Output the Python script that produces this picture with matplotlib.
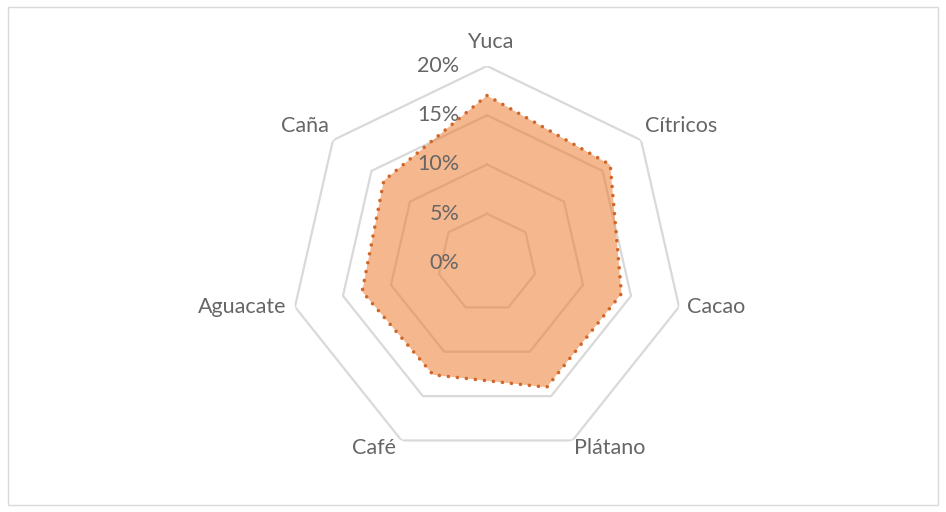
import numpy as np
import matplotlib
matplotlib.use("Agg")
import matplotlib.pyplot as plt
from matplotlib.patches import Rectangle

plt.rcParams['font.family'] = ['Lato', 'DejaVu Sans']

# Share of each crop (%)
categories = ["Yuca", "Cítricos", "Cacao", "Plátano", "Café", "Aguacate", "Caña"]
values = [17.0, 16.0, 14.0, 14.0, 12.6, 13.0, 13.4]
grid_levels = [5, 10, 15, 20]
tick_labels = ["0%", "5%", "10%", "15%", "20%"]
r_max = 20

text_color = "#666666"
grid_color = "#D9D9D9"
fill_color = "#ED7D31"
line_color = "#D2672A"
font_size = 15.5

W, H, DPI = 946, 512, 100
fig = plt.figure(figsize=(W / DPI, H / DPI), dpi=DPI)

# chart area border
fig.patches.append(Rectangle((8 / W, 7 / H), (W - 16) / W, (H - 14) / H,
                             transform=fig.transFigure, fill=False,
                             edgecolor="#D9D9D9", linewidth=1.0))

cx, cy, R = 487, 263, 197
ax = fig.add_axes([(cx - R) / W, (H - cy - R) / H, 2 * R / W, 2 * R / H],
                  projection="polar")
ax.set_theta_zero_location("N")
ax.set_theta_direction(-1)
ax.set_ylim(0, r_max)
ax.axis("off")

n = len(categories)
angles = np.linspace(0, 2 * np.pi, n, endpoint=False)
closed = np.append(angles, angles[0])

# heptagonal gridlines
for lvl in grid_levels:
    ax.plot(closed, [lvl] * (n + 1), color=grid_color, lw=1.6, zorder=1)

# data series
vals = np.append(values, values[0])
ax.fill(closed, vals, color=fill_color, alpha=0.55, lw=0, zorder=2)
ax.plot(closed, vals, color=line_color, lw=2.6,
        linestyle=(0, (0.01, 2.5)), dash_capstyle="round", zorder=3)

# radial tick labels along the vertical axis
for i, lab in enumerate(tick_labels):
    r = i * 5
    ax.annotate(lab, xy=(0, r), xytext=(-20, 0), textcoords="offset points",
                ha="right", va="center", fontsize=font_size, color=text_color,
                zorder=4)

# category labels
label_offsets = {
    "Yuca": (2, 10, "center", "bottom"),
    "Cítricos": (3, 3, "left", "bottom"),
    "Cacao": (6, 0, "left", "center"),
    "Plátano": (1, 2, "left", "top"),
    "Café": (-4, 2, "right", "top"),
    "Aguacate": (-6, 0, "right", "center"),
    "Caña": (-3, 3, "right", "bottom"),
}
for ang, cat in zip(angles, categories):
    dx, dy, ha, va = label_offsets[cat]
    ax.annotate(cat, xy=(ang, r_max), xytext=(dx, dy),
                textcoords="offset points", ha=ha, va=va,
                fontsize=font_size, color=text_color, annotation_clip=False)

fig.savefig("out.png", dpi=DPI, facecolor="white")
